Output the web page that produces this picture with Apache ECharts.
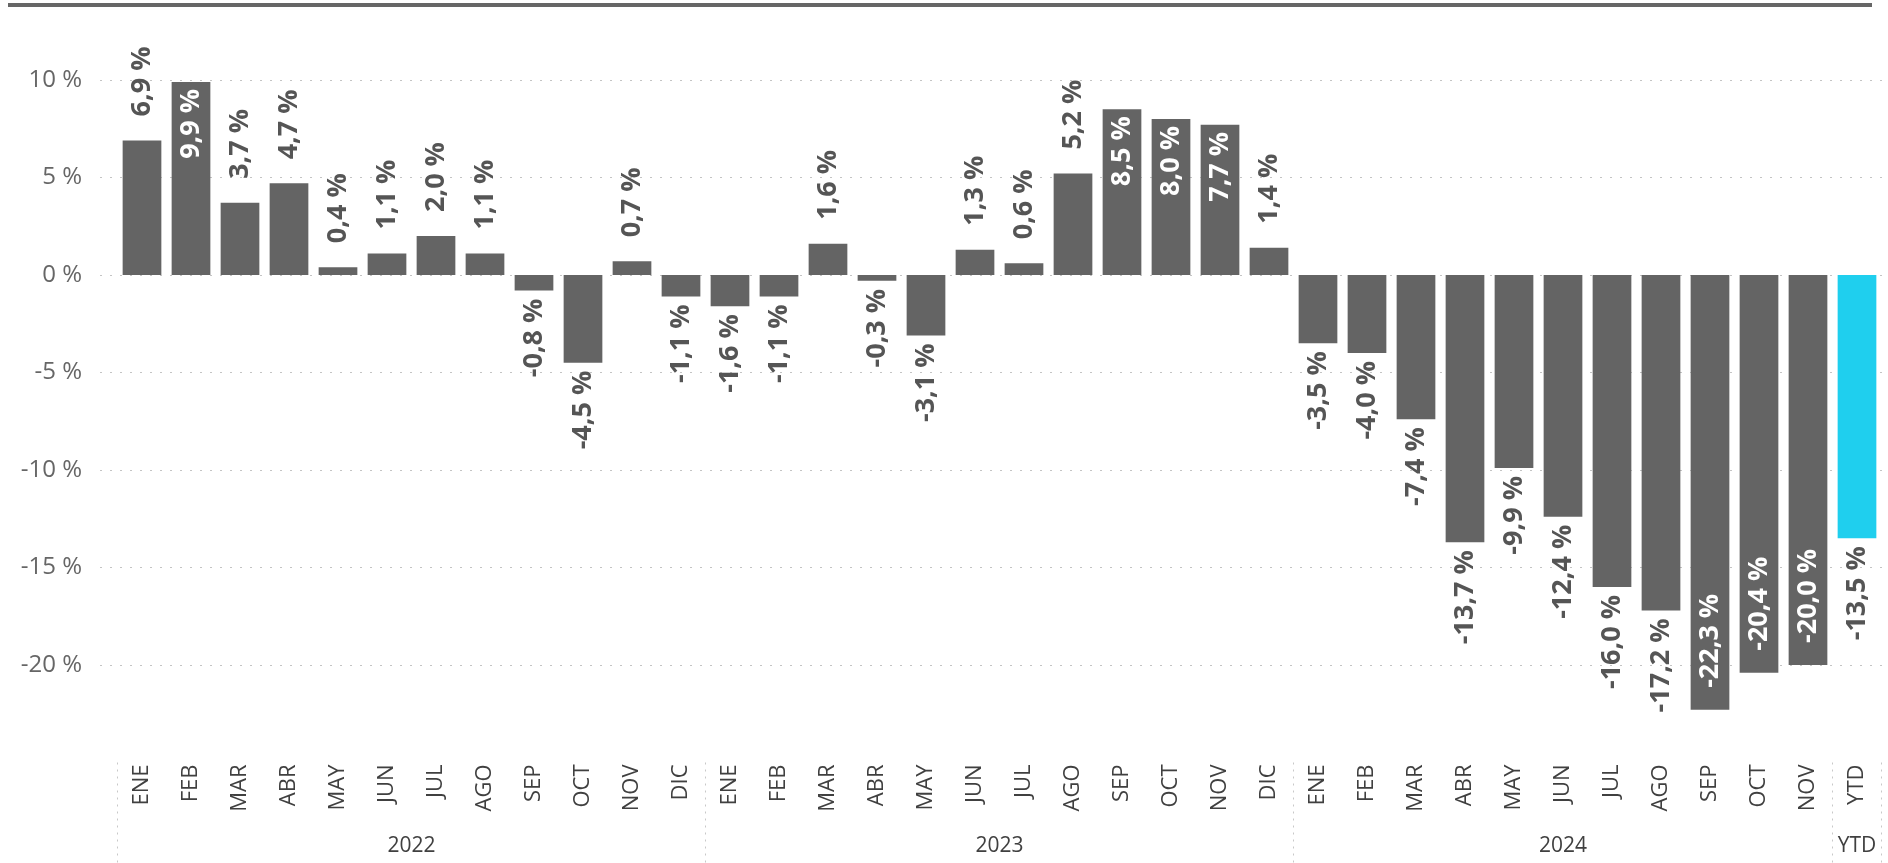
<!DOCTYPE html>
<html lang="es">
<head>
    <meta charset="UTF-8">
    <title>Variación mensual</title>
    <script src="https://cdn.jsdelivr.net/npm/echarts@6/dist/echarts.min.js"></script>
    <style>
        html, body { margin: 0; padding: 0; background: #fff; }
        #chart { width: 1888px; height: 863px; }
    </style>
</head>
<body>
    <div id="chart"></div>
    <script>
        // datos
        const years = ['2022', '2023', '2024', 'YTD'];
        const months2022 = ['ENE', 'FEB', 'MAR', 'ABR', 'MAY', 'JUN', 'JUL', 'AGO', 'SEP', 'OCT', 'NOV', 'DIC'];
        const months2023 = ['ENE', 'FEB', 'MAR', 'ABR', 'MAY', 'JUN', 'JUL', 'AGO', 'SEP', 'OCT', 'NOV', 'DIC'];
        const months2024 = ['ENE', 'FEB', 'MAR', 'ABR', 'MAY', 'JUN', 'JUL', 'AGO', 'SEP', 'OCT', 'NOV'];
        const monthsYtd = ['YTD'];
        const values2022 = [6.9, 9.9, 3.7, 4.7, 0.4, 1.1, 2.0, 1.1, -0.8, -4.5, 0.7, -1.1];
        const values2023 = [-1.6, -1.1, 1.6, -0.3, -3.1, 1.3, 0.6, 5.2, 8.5, 8.0, 7.7, 1.4];
        const values2024 = [-3.5, -4.0, -7.4, -13.7, -9.9, -12.4, -16.0, -17.2, -22.3, -20.4, -20.0];
        const valuesYtd = [-13.5];
        const yTicks = [-20, -15, -10, -5, 0, 5, 10];

        const groups = [months2022, months2023, months2024, monthsYtd];
        const groupValues = [values2022, values2023, values2024, valuesYtd];

        let months = [], yearOf = [], values = [], isYtd = [];
        let boundaries = [], yearLabelAt = {};
        groups.forEach((g, gi) => {
            const start = months.length;
            boundaries.push(start);
            const mid = start + (g.length - 1) / 2;
            yearLabelAt[Math.floor(mid)] = { text: years[gi], half: mid % 1 !== 0 };
            g.forEach((m, i) => {
                months.push(m);
                yearOf.push(years[gi]);
                values.push(groupValues[gi][i]);
                isYtd.push(gi === 3);
            });
        });

        const fmt = v => v.toFixed(1).replace('.', ',') + ' %';
        const labelFont = { fontFamily: 'Open Sans', fontWeight: 'bold', fontSize: 27 };

        const barData = values.map((v, i) => {
            let label;
            if (v >= 0 && v > 7) {
                label = { position: 'insideTop', distance: 7, align: 'right', color: '#fff' };
            } else if (v >= 0) {
                label = { position: 'top', distance: 24, align: 'left', color: '#555' };
            } else if (v < -18) {
                label = { position: 'insideBottom', distance: 22, align: 'left', color: '#fff' };
            } else {
                label = { position: 'bottom', distance: 8, align: 'right', color: '#555' };
            }
            return {
                value: v,
                itemStyle: { color: isYtd[i] ? '#1fcfee' : '#646464' },
                label: label
            };
        });

        const chart = echarts.init(document.getElementById('chart'));
        const gridTop = 80, gridBottom = 100.5;
        chart.setOption({
            animation: false,
            textStyle: { fontFamily: 'Open Sans' },
            graphic: [{
                type: 'line',
                shape: { x1: 8, y1: 5, x2: 1872, y2: 5 },
                style: { stroke: '#666', lineWidth: 4 }
            }],
            grid: [
                { left: 100, right: 0, top: gridTop, bottom: gridBottom },
                { left: 117.5, right: 6.5, top: gridTop, bottom: gridBottom }
            ],
            xAxis: [
                { gridIndex: 0, type: 'value', show: false },
                {
                    gridIndex: 1, type: 'category', data: months, position: 'bottom',
                    axisLine: { show: false }, axisTick: { show: false },
                    axisLabel: {
                        rotate: 90, margin: 2, interval: 0,
                        fontSize: 22, color: '#404040', fontFamily: 'Open Sans'
                    }
                },
                {
                    gridIndex: 1, type: 'category', data: yearOf, position: 'bottom',
                    axisLine: { show: false },
                    axisTick: {
                        show: true, length: 101,
                        interval: idx => boundaries.includes(idx),
                        lineStyle: { color: '#c8c8c8', type: [2, 5], width: 1 }
                    },
                    axisLabel: {
                        margin: 73,
                        interval: idx => yearLabelAt[idx] !== undefined,
                        formatter: (val, idx) => {
                            const y = yearLabelAt[idx];
                            return y.half ? '{h|' + y.text + '}' : '{n|' + y.text + '}';
                        },
                        rich: {
                            n: { fontSize: 21, color: '#404040', fontFamily: 'Open Sans' },
                            h: { fontSize: 21, color: '#404040', fontFamily: 'Open Sans', padding: [0, 0, 0, 49] }
                        }
                    }
                }
            ],
            yAxis: [
                {
                    gridIndex: 0, type: 'value', min: -25, max: 10, interval: 5,
                    axisLine: { show: false }, axisTick: { show: false },
                    axisLabel: {
                        margin: 18, fontSize: 24, color: '#666', showMinLabel: false,
                        formatter: v => yTicks.includes(v) ? v + ' %' : ''
                    },
                    splitLine: {
                        show: true, showMinLine: false,
                        lineStyle: { color: '#c4c4c4', type: [2, 8], width: 1 }
                    }
                },
                {
                    gridIndex: 1, type: 'value', min: -25, max: 10, interval: 5,
                    show: false, splitLine: { show: false }
                }
            ],
            series: [{
                type: 'bar',
                xAxisIndex: 1,
                yAxisIndex: 1,
                barCategoryGap: '21%',
                data: barData,
                label: Object.assign({
                    show: true, rotate: 90, verticalAlign: 'middle',
                    formatter: p => fmt(p.value)
                }, labelFont)
            }]
        });
    </script>
</body>
</html>
